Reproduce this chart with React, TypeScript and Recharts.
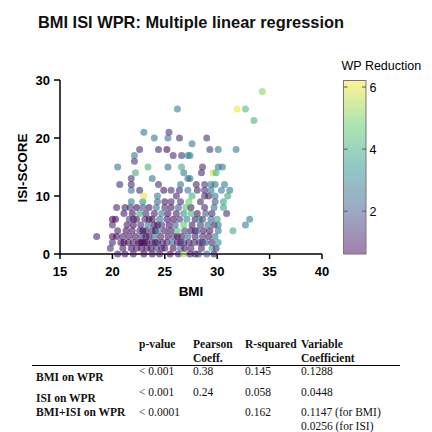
import { ScatterChart, Scatter, XAxis, YAxis } from "recharts";

// [BMI, ISI score, WP reduction]
type Pt = [number, number, number];

// ISI 0..4 (dense lower band)
const LOW_BAND: Pt[] = [
  [20.5, 0, 1], [21.2, 0, 0.9], [22, 0, 1], [23, 0, 0.8], [23.8, 0, 1], [24.5, 0, 1], [25.5, 0, 0.8],
  [26.3, 0, 1.2], [26.8, 0, 5.5], [27.4, 0, 1], [27.9, 0, 1.1], [28.2, 0, 1.5], [29, 0, 2], [29.7, 0, 1],
  [19.8, 1, 1.3], [21, 1, 1], [21.8, 1, 0.8], [22.3, 1, 0.9], [22.8, 1, 0.7], [23.3, 1, 1], [23.7, 1, 0.8],
  [24.2, 1, 1.5], [24.7, 1, 1], [25, 1, 1], [25.8, 1, 0.8], [26.5, 1, 2.5], [26.9, 1, 1], [27.5, 1, 1.2],
  [28.5, 1, 1], [29.5, 1, 3.8], [29.9, 1, 1.5],
  [20, 2, 1.2], [20.8, 2, 1], [21.1, 2, 0.8], [21.5, 2, 0.9], [22, 2, 0.8], [22.5, 2, 0.8], [22.9, 2, 0.7],
  [23.3, 2, 0.8], [23.8, 2, 1], [24.1, 2, 0.8], [24.3, 2, 1.2], [24.8, 2, 0.9], [25.2, 2, 1.3], [25.7, 2, 2.2],
  [26.2, 2, 1], [26.5, 2, 0.9], [26.8, 2, 1.5], [27.3, 2, 0.9], [27.8, 2, 1.2], [28.3, 2, 1], [28.6, 2, 1.4],
  [28.9, 2, 2], [29.5, 2, 1.2], [30.1, 2, 3.5], [22.7, 2, 0.7], [23.1, 2, 0.9],
  [18.5, 3, 1.2], [20, 3, 0.8], [20.4, 3, 0.7], [21, 3, 1], [21.6, 3, 1], [22.2, 3, 0.9], [22.8, 3, 1.4],
  [23.2, 3, 0.8], [23.5, 3, 1], [24, 3, 2.6], [24.6, 3, 1], [25.3, 3, 0.9], [25.9, 3, 1.6], [26.2, 3, 0.9],
  [26.6, 3, 1], [27.2, 3, 2.5], [27.9, 3, 1], [28.6, 3, 1.3], [29.2, 3, 1], [29.8, 3, 2.8],
  [20.5, 4, 1.2], [21.3, 4, 0.8], [21.9, 4, 1], [22.6, 4, 1.5], [22.9, 4, 0.8], [23.2, 4, 0.9],
  [23.8, 4, 1.2], [24.1, 4, 0.8], [24.4, 4, 3], [25, 4, 1], [25.6, 4, 0.9], [26.2, 4, 4.5], [26.9, 4, 1.5],
  [27.5, 4, 1], [27.9, 4, 1], [28.1, 4, 2], [28.7, 4, 1], [29.3, 4, 0.9], [30.1, 4, 2.5], [31.5, 4, 4],
];

// ISI 5..9
const MID_BAND: Pt[] = [
  [20, 5, 1.3], [21.4, 5, 1], [22, 5, 0.8], [22.7, 5, 1.2], [23.4, 5, 2.8], [24, 5, 1],
  [24.3, 5, 0.8], [24.7, 5, 1.4], [25.4, 5, 0.8], [26, 5, 2.2], [26.8, 5, 4.8], [27.6, 5, 1],
  [28.4, 5, 1.5], [29.1, 5, 2.6], [29.7, 5, 1.1], [30.1, 5, 2.8], [32.7, 5, 3],
  [20, 6, 0.8], [20.3, 6, 0.7], [21.6, 6, 1.5], [22, 6, 0.9], [22.3, 6, 1], [23.1, 6, 1.2],
  [23.5, 6, 0.9], [23.8, 6, 0.8], [24.5, 6, 2.5], [25.2, 6, 1], [25.8, 6, 0.8], [26.4, 6, 1.4],
  [27.1, 6, 3.2], [27.9, 6, 1], [28.3, 6, 4], [28.6, 6, 1.6], [29.4, 6, 2.4], [30, 6, 3.8], [33.1, 6, 3],
  [21.1, 7, 1], [21.9, 7, 0.8], [22.6, 7, 3.8], [23.2, 7, 1.3], [24, 7, 1], [24.7, 7, 2.7],
  [25.3, 7, 0.8], [26.1, 7, 1.1], [26.8, 7, 3.5], [27.5, 7, 4.2], [28.1, 7, 1], [28.9, 7, 2],
  [29.5, 7, 1.2], [30.9, 7, 1.3],
  [20.4, 8, 1.2], [21.2, 8, 1], [21.7, 8, 1.4], [22.3, 8, 0.7], [22.9, 8, 2], [23.5, 8, 1],
  [24.2, 8, 2.5], [25, 8, 1.3], [25.6, 8, 0.9], [26.3, 8, 2.2], [27, 8, 4.5], [27.5, 8, 1.1],
  [28.8, 8, 1.2], [29.7, 8, 2.6], [30.6, 8, 3.8],
  [21.8, 9, 2.8], [22.9, 9, 3.2], [24.3, 9, 2.3], [25, 9, 1], [25.6, 9, 1.2], [26.5, 9, 1.3],
  [27.3, 9, 4.8], [28.4, 9, 1.2], [29.8, 9, 2], [30.6, 9, 3.8],
];

// ISI 10 and above
const HIGH_BAND: Pt[] = [
  [23, 10, 6], [24.3, 10, 2.8], [26.1, 10, 1.2], [27.6, 10, 4], [28.8, 10, 1.3], [29.2, 10, 1.1],
  [29.8, 10, 2.8], [31, 10, 3.8],
  [21.8, 11, 2.7], [22.6, 11, 1.2], [24.9, 11, 0.9], [25.6, 11, 1.3], [26.4, 11, 1.2], [27.2, 11, 2.8],
  [28.1, 11, 1.2], [28.8, 11, 1.3], [29.4, 11, 2.6], [30.4, 11, 2.9], [31.2, 11, 2.8],
  [20.7, 12, 1.3], [21.8, 12, 1.2], [24.4, 12, 1.3], [26.5, 12, 2.8], [28, 12, 1.2], [28.8, 12, 1.5],
  [29.4, 12, 2.8], [29.8, 12, 2.6], [30.7, 12, 2.9],
  [21.8, 13, 1.4], [23.8, 13, 2.7], [27.2, 13, 2.8], [27.4, 13, 2.6],
  [22.2, 14, 4], [26.8, 14, 2.9], [28.5, 14, 1.2], [29.6, 14, 5.8], [29.9, 14, 4.2],
  [20.5, 15, 2.7], [23.4, 15, 4.2], [25.3, 15, 2.5], [26.6, 15, 4], [28.6, 15, 1.2], [30.1, 15, 2.8], [30.5, 15, 2.8],
  [22.1, 16, 1.4],
  [22.1, 17, 2.7], [25.8, 17, 1.3], [26.6, 17, 1.4], [27.2, 17, 3.5], [27.4, 17, 2.8],
  [22.6, 18, 1.3], [24.4, 18, 1.3], [25.2, 18, 0.8], [29.3, 18, 1.5], [30.1, 18, 2.7], [31.8, 18, 2.9],
  [27.6, 19, 2.8],
  [24, 20, 2.8], [25.3, 20, 2.7], [26.4, 20, 1.3], [29, 20, 1.4],
  [23, 21, 2.7], [25.4, 21, 1.4],
  [33.5, 23, 4.2],
  [26.2, 25, 3], [31.9, 25, 6.1], [32.7, 25, 4.4],
  [34.3, 28, 5.2],
];

const X_TICKS = [15, 20, 25, 30, 35, 40];
const Y_TICKS = [0, 10, 20, 30];
const BAR_TICKS = [2, 4, 6];
const WPR_MIN = 0.62;
const WPR_MAX = 6.21;

const TABLE_HEAD = ["p-value", "Pearson\nCoeff.", "R-squared", "Variable\nCoefficient"];
const TABLE_ROWS = [
  { label: "BMI on WPR", p: "< 0.001", r: "0.38", r2: "0.145", coef: "0.1288" },
  { label: "ISI on WPR", p: "< 0.001", r: "0.24", r2: "0.058", coef: "0.0448" },
  { label: "BMI+ISI on WPR", p: "< 0.0001", r: "", r2: "0.162", coef: "0.1147 (for BMI)\n0.0256 (for ISI)" },
];

const VIRIDIS = ["#440154", "#3b528b", "#21918c", "#5ec962", "#fde725"];

function hexToRgb(h: string) {
  return [1, 3, 5].map((i) => parseInt(h.slice(i, i + 2), 16));
}

function viridis(t: number) {
  const c = Math.min(1, Math.max(0, t)) * (VIRIDIS.length - 1);
  const i = Math.min(VIRIDIS.length - 2, Math.floor(c));
  const f = c - i;
  const a = hexToRgb(VIRIDIS[i]);
  const b = hexToRgb(VIRIDIS[i + 1]);
  const m = a.map((v, k) => Math.round(v + (b[k] - v) * f));
  return `rgb(${m[0]},${m[1]},${m[2]})`;
}

const wprColor = (v: number) => viridis((v - WPR_MIN) / (WPR_MAX - WPR_MIN));

const data = [...LOW_BAND, ...MID_BAND, ...HIGH_BAND].map(([bmi, isi, wpr]) => ({ bmi, isi, wpr }));

const SANS = '"Liberation Sans", Arial, sans-serif';
const SERIF = '"Liberation Serif", "Times New Roman", serif';

const Dot = (props: any) => {
  const { cx, cy, payload } = props;
  if (cx == null || cy == null) return null;
  return <circle cx={cx} cy={cy} r={3.5} fill={wprColor(payload.wpr)} fillOpacity={0.58} />;
};

function ColorBar() {
  const top = 80.5;
  const h = 173.5;
  const yOf = (v: number) => top + h - ((v - WPR_MIN) / (WPR_MAX - WPR_MIN)) * h;
  return (
    <svg width={432} height={300} style={{ position: "absolute", left: 0, top: 0 }}>
      <defs>
        <linearGradient id="wpr" x1="0" y1="1" x2="0" y2="0">
          {VIRIDIS.map((c, i) => (
            <stop key={c} offset={i / (VIRIDIS.length - 1)} stopColor={c} stopOpacity={0.5} />
          ))}
        </linearGradient>
      </defs>
      <text x={341.5} y={69.5} fontFamily={SANS} fontSize={12.5} fill="#000">
        WP Reduction
      </text>
      <rect x={343.5} y={top} width={22.5} height={h} fill="url(#wpr)" stroke="#777" strokeWidth={1} />
      {BAR_TICKS.map((t) => (
        <g key={t}>
          <line x1={343.5} x2={347.5} y1={yOf(t)} y2={yOf(t)} stroke="#555" strokeWidth={1} />
          <line x1={362} x2={366} y1={yOf(t)} y2={yOf(t)} stroke="#555" strokeWidth={1} />
          <text x={369.5} y={yOf(t) + 4.5} fontFamily={SANS} fontSize={12.5} fill="#000">
            {t}
          </text>
        </g>
      ))}
    </svg>
  );
}

function StatsTable() {
  const cols = [139, 193, 245, 301];
  const cell = (x: number, y: number, text: string, bold = false) => (
    <div
      style={{
        position: "absolute",
        left: x,
        top: y,
        whiteSpace: "pre",
        lineHeight: "14px",
        fontWeight: bold ? 700 : 400,
      }}
    >
      {text}
    </div>
  );
  const rowY = [364, 385, 405];
  return (
    <div style={{ position: "absolute", left: 0, top: 0, fontFamily: SERIF, fontSize: 11.5, color: "#111" }}>
      {TABLE_HEAD.map((t, i) => cell(cols[i], 337, t, true))}
      <div style={{ position: "absolute", left: 32, top: 365, width: 368, height: 1, background: "#000" }} />
      {TABLE_ROWS.map((r, i) => (
        <div key={r.label}>
          {cell(36, rowY[i] + (i < 2 ? 6 : 0), r.label, true)}
          {cell(cols[0], rowY[i], r.p)}
          {cell(cols[1], rowY[i], r.r)}
          {cell(cols[2], rowY[i], r.r2)}
          {cell(cols[3], rowY[i], r.coef)}
        </div>
      ))}
    </div>
  );
}

export default function App() {
  const tick = { fill: "#000", fontSize: 13, fontWeight: 700, fontFamily: SANS };
  const axisLine = { stroke: "#000", strokeWidth: 1.5 };
  return (
    <div style={{ position: "fixed", left: 0, top: 0, width: 432, height: 432, background: "#fff", overflow: "hidden" }}>
      <div
        style={{
          position: "absolute",
          left: 38,
          top: 13,
          fontFamily: SANS,
          fontWeight: 700,
          fontSize: 16.4,
          color: "#111",
          whiteSpace: "nowrap",
        }}
      >
        BMI ISI WPR: Multiple linear regression
      </div>
      <div style={{ position: "absolute", left: 0, top: 0 }}>
        <ScatterChart width={340} height={300} margin={{ top: 80, right: 18, bottom: 0, left: 0 }}>
          <XAxis
            type="number"
            dataKey="bmi"
            domain={[15, 40]}
            ticks={X_TICKS}
            height={46}
            tickSize={5}
            tickMargin={8}
            tick={tick}
            axisLine={axisLine}
            tickLine={axisLine}
            label={{
              value: "BMI",
              position: "insideBottom",
              offset: 4,
              fill: "#000",
              fontSize: 13.5,
              fontWeight: 700,
              fontFamily: SANS,
            }}
          />
          <YAxis
            type="number"
            dataKey="isi"
            domain={[0, 30]}
            ticks={Y_TICKS}
            width={60}
            tickSize={6}
            tickMargin={4}
            tick={tick}
            axisLine={axisLine}
            tickLine={axisLine}
            label={{
              content: () => (
                <text
                  x={22}
                  y={168}
                  transform="rotate(-90, 22, 168)"
                  textAnchor="middle"
                  dominantBaseline="central"
                  fill="#000"
                  fontSize={13.5}
                  fontWeight={700}
                  fontFamily={SANS}
                >
                  ISI-SCORE
                </text>
              ),
            }}
          />
          <Scatter data={data} shape={Dot} isAnimationActive={false} />
        </ScatterChart>
      </div>
      <ColorBar />
      <StatsTable />
    </div>
  );
}
